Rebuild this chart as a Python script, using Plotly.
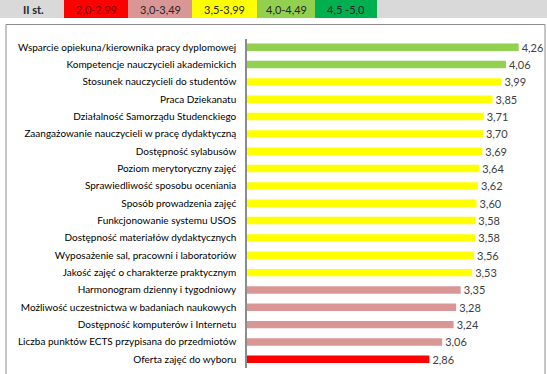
import plotly.graph_objects as go

categories = [
    "Wsparcie opiekuna/kierownika pracy dyplomowej",
    "Kompetencje nauczycieli akademickich",
    "Stosunek nauczycieli do studentów",
    "Praca Dziekanatu",
    "Działalność Samorządu Studenckiego",
    "Zaangażowanie nauczycieli w pracę dydaktyczną",
    "Dostępność sylabusów",
    "Poziom merytoryczny zajęć",
    "Sprawiedliwość sposobu oceniania",
    "Sposób prowadzenia zajęć",
    "Funkcjonowanie systemu USOS",
    "Dostępność materiałów dydaktycznych",
    "Wyposażenie sal, pracowni i laboratoriów",
    "Jakość zajęć o charakterze praktycznym",
    "Harmonogram dzienny i tygodniowy",
    "Możliwość uczestnictwa w badaniach naukowych",
    "Dostępność komputerów i Internetu",
    "Liczba punktów ECTS przypisana do przedmiotów",
    "Oferta zajęć do wyboru",
]
values = [4.26, 4.06, 3.99, 3.85, 3.71, 3.70, 3.69, 3.64, 3.62, 3.60,
          3.58, 3.58, 3.56, 3.53, 3.35, 3.28, 3.24, 3.06, 2.86]

legend_title = "II st."
legend_labels = ["2,0-2,99", "3,0-3,49", "3,5-3,99", "4,0-4,49", "4,5 -5,0"]
legend_lower = [2.0, 3.0, 3.5, 4.0, 4.5]

# styles
legend_fill = ["#FF0000", "#DA9694", "#FFFF00", "#92D050", "#00B050"]
legend_text = ["#7A0000", "#262626", "#262626", "#262626", "#262626"]
bar_fill = ["#FF0000", "#DA9694", "#FFFF00", "#92D050", "#00B050"]
FONT = "Lato, Calibri, sans-serif"

def color_for(v):
    idx = 0
    for i, lo in enumerate(legend_lower):
        if v >= lo:
            idx = i
    return bar_fill[idx]

W, H = 547, 374

def px(x):
    return x / W

def py(y):
    return 1 - y / H

fig = go.Figure()
fig.add_trace(go.Bar(
    x=values,
    y=categories,
    orientation="h",
    marker=dict(color=[color_for(v) for v in values], line=dict(width=0)),
    text=[f"{v:.2f}".replace(".", ",") for v in values],
    textposition="outside",
    constraintext="none",
    textfont=dict(family=FONT, size=11, color="#404040"),
    cliponaxis=False,
    hoverinfo="skip",
))

shapes = []
annotations = []
# header strip
shapes.append(dict(type="rect", xref="paper", yref="paper",
                   x0=0, x1=1, y0=py(18), y1=py(0),
                   fillcolor="#D9D9D9", line=dict(width=0), layer="below"))
cell_edges = [64, 128, 192, 257, 315, 377]
for i, lab in enumerate(legend_labels):
    x0, x1 = cell_edges[i], cell_edges[i + 1]
    shapes.append(dict(type="rect", xref="paper", yref="paper",
                       x0=px(x0), x1=px(x1), y0=py(18), y1=py(0),
                       fillcolor=legend_fill[i], line=dict(width=0), layer="below"))
    annotations.append(dict(xref="paper", yref="paper", x=px((x0 + x1) / 2), y=py(9.5),
                            text=lab, showarrow=False, xanchor="center", yanchor="middle",
                            font=dict(family=FONT, size=11, color=legend_text[i])))
annotations.append(dict(xref="paper", yref="paper", x=px(33), y=py(9.5),
                        text="<b>" + legend_title + "</b>", showarrow=False,
                        xanchor="center", yanchor="middle",
                        font=dict(family=FONT, size=11, color="#262626")))
# chart border
shapes.append(dict(type="rect", xref="paper", yref="paper",
                   x0=px(6), x1=px(545), y0=py(380), y1=py(24.5),
                   fillcolor="rgba(0,0,0,0)", line=dict(color="#8C8C8C", width=1), layer="below"))

fig.update_layout(
    template="none",
    width=W, height=H,
    margin=dict(l=0, r=0, t=0, b=0, pad=0, autoexpand=False),
    paper_bgcolor="white", plot_bgcolor="rgba(0,0,0,0)",
    showlegend=False,
    bargap=0.57,
    hovermode=False,
    shapes=shapes,
    annotations=annotations,
    xaxis=dict(domain=[px(247), px(534)], range=[0, 4.5], visible=False,
               automargin=False, fixedrange=True),
    yaxis=dict(domain=[py(368), py(38.5)], autorange="reversed",
               automargin=False, fixedrange=True,
               showline=True, linecolor="#8C8C8C", linewidth=1.5,
               ticks="", showgrid=False, zeroline=False,
               ticklabelstandoff=7,
               tickfont=dict(family=FONT, size=10, color="#000000")),
)

fig.write_html(
    "out.html",
    config={"displayModeBar": False},
    post_script="document.body.style.margin='0';document.body.style.overflow='hidden';",
)
